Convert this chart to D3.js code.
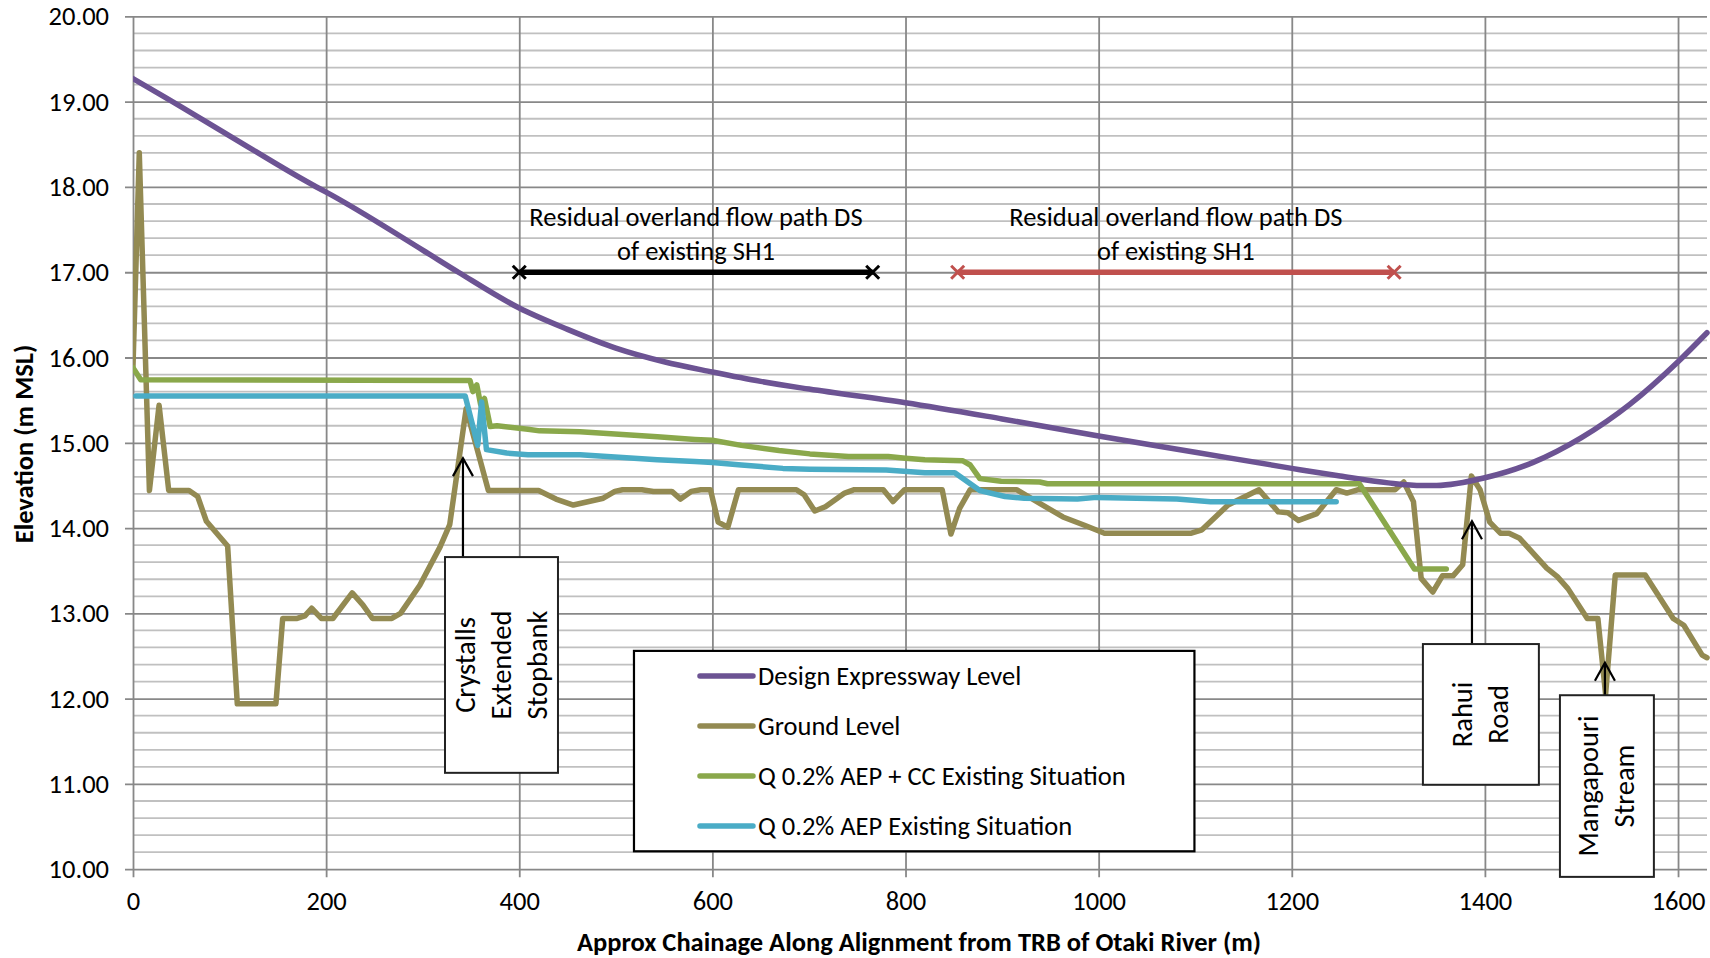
<!DOCTYPE html>
<html>
<head>
<meta charset="utf-8">
<script src="https://cdn.jsdelivr.net/npm/d3@7"></script>
<style>
  html, body { margin: 0; padding: 0; background: #fff; }
  svg { display: block; }
  text { font-family: Carlito, Lato, "Open Sans", sans-serif; fill: #000; }
</style>
</head>
<body>
<svg id="chart" width="1710" height="958"></svg>
<script>
// Long section along the expressway alignment: chainage (m) vs elevation (m MSL)
const designLevel = [
  [0, 19.27], [32, 19.06], [100, 18.60], [190, 18.00], [200, 17.94], [300, 17.26],
  [337, 17.00], [400, 16.58], [450, 16.33], [500, 16.11], [550, 15.95], [600, 15.83],
  [650, 15.72], [700, 15.63], [800, 15.47], [900, 15.28], [1000, 15.08],
  [1100, 14.89], [1200, 14.70], [1250, 14.61], [1300, 14.53], [1335, 14.50],
  [1350, 14.50], [1400, 14.59], [1450, 14.77], [1500, 15.06], [1550, 15.45],
  [1600, 15.95], [1630, 16.29]
];

const groundLevel = [
  [0, 15.90], [6.5, 18.40], [17, 14.44], [27, 15.44], [37, 14.44], [58, 14.44],
  [67, 14.37], [76, 14.08], [98, 13.79], [108, 11.94], [148, 11.94], [155, 12.94],
  [170, 12.94], [178, 12.97], [185, 13.06], [195, 12.94], [207, 12.94], [215, 13.06],
  [227, 13.24], [238, 13.10], [248, 12.94], [268, 12.94], [277, 13.00], [297, 13.33],
  [318, 13.78], [328, 14.04], [345, 15.40], [368, 14.44], [420, 14.44], [438, 14.34],
  [456, 14.27], [487, 14.35], [499, 14.43], [507, 14.45], [527, 14.45], [539, 14.43],
  [558, 14.43], [567, 14.34], [578, 14.43], [588, 14.45], [598, 14.45], [606, 14.07],
  [616, 14.01], [627, 14.45], [687, 14.45], [695, 14.39], [706, 14.20], [717, 14.25],
  [737, 14.41], [747, 14.45], [777, 14.45], [787, 14.31], [799, 14.45], [838, 14.45],
  [847, 13.93], [856, 14.23], [867, 14.45], [915, 14.45], [939, 14.29], [963, 14.13],
  [986, 14.03], [1006, 13.94], [1096, 13.94], [1107, 13.98], [1134, 14.27],
  [1166, 14.45], [1186, 14.19], [1196, 14.18], [1207, 14.09], [1226, 14.17],
  [1246, 14.45], [1257, 14.41], [1269, 14.45], [1307, 14.45], [1316, 14.54],
  [1326, 14.31], [1334, 13.41], [1346, 13.25], [1356, 13.44], [1367, 13.44],
  [1377, 13.57], [1386, 14.61], [1395, 14.45], [1405, 14.07], [1416, 13.94],
  [1425, 13.94], [1436, 13.88], [1464, 13.53], [1475, 13.43], [1486, 13.29],
  [1506, 12.94], [1517, 12.94], [1525, 12.05], [1535, 13.45], [1566, 13.45],
  [1595, 12.94], [1606, 12.86], [1625, 12.51], [1630, 12.48]
];

const floodCC = [
  [0, 15.88], [8, 15.74], [349, 15.73], [352, 15.60], [356, 15.68], [360, 15.45],
  [364, 15.52], [370, 15.19], [377, 15.20], [409, 15.16], [421, 15.14], [463, 15.13],
  [503, 15.10], [543, 15.07], [582, 15.04], [600, 15.03], [630, 14.97], [669, 14.91],
  [701, 14.87], [741, 14.84], [782, 14.84], [800, 14.82], [820, 14.80], [859, 14.79],
  [867, 14.74], [877, 14.58], [899, 14.55], [939, 14.54], [947, 14.52], [1270, 14.52],
  [1327, 13.52], [1360, 13.52]
];

const floodExisting = [
  [3, 15.55], [344, 15.55], [357, 14.97], [361, 15.48], [366, 14.92], [387, 14.88],
  [409, 14.86], [463, 14.86], [503, 14.83], [543, 14.80], [582, 14.78], [600, 14.77],
  [630, 14.74], [673, 14.70], [701, 14.69], [780, 14.68], [820, 14.65], [851, 14.65],
  [877, 14.44], [903, 14.37], [923, 14.35], [978, 14.34], [998, 14.36], [1081, 14.34],
  [1116, 14.31], [1246, 14.31]
];

const seriesNames = [
  "Design Expressway Level",
  "Ground Level",
  "Q 0.2% AEP + CC Existing Situation",
  "Q 0.2% AEP Existing Situation"
];
const seriesColors = ["#6c5393", "#938a52", "#8aa84b", "#4aacc6"];

const xTicks = [0, 200, 400, 600, 800, 1000, 1200, 1400, 1600];
const yTicks = [10, 11, 12, 13, 14, 15, 16, 17, 18, 19, 20];

// Overland flow path reaches (chainage start/end, elevation of marker line)
const flowPaths = [
  { from: 400, to: 766, level: 17.0, color: "#000000",
    lines: ["Residual overland flow path DS", "of existing SH1"] },
  { from: 854, to: 1306, level: 17.0, color: "#c0504d",
    lines: ["Residual overland flow path DS", "of existing SH1"] }
];

// Callouts: arrow at chainage/elevation, box extent in chart units
const callouts = [
  { lines: ["Crystalls", "Extended", "Stopbank"], at: 341.7, tip: 14.82,
    box: { x0: 323.1, x1: 440.1, y0: 13.66, y1: 11.13 } },
  { lines: ["Rahui", "Road"], at: 1386.6, tip: 14.08,
    box: { x0: 1335.8, x1: 1455.9, y0: 12.64, y1: 10.99 } },
  { lines: ["Mangapouri", "Stream"], at: 1524.3, tip: 12.42,
    box: { x0: 1477.7, x1: 1575.0, y0: 12.04, y1: 9.91 } }
];

const svg = d3.select("#chart");
const plot = { left: 133, right: 1707, top: 16.4, bottom: 869.2 };
const labelSize = 26.5;

const x = d3.scaleLinear().domain([0, 1630]).range([plot.left, plot.right]);
const y = d3.scaleLinear().domain([10, 20]).range([plot.bottom, plot.top]);

svg.append("defs").append("clipPath").attr("id", "plotClip")
  .append("rect")
  .attr("x", plot.left).attr("y", plot.top - 10)
  .attr("width", plot.right - plot.left + 5).attr("height", plot.bottom - plot.top + 20);

// Minor horizontal gridlines every 0.2 m
const minorY = d3.range(10, 20.001, 0.2).filter(v => Math.abs(v - Math.round(v)) > 1e-6);
svg.append("g").selectAll("line").data(minorY).join("line")
  .attr("x1", plot.left).attr("x2", plot.right)
  .attr("y1", d => y(d)).attr("y2", d => y(d))
  .attr("stroke", "#c0c0c0").attr("stroke-width", 1.8);

// Major gridlines, both directions
const yAxis = d3.axisLeft(y).tickValues(yTicks).tickFormat(d3.format(".2f"))
  .tickSize(-(plot.right - plot.left + 8)).tickPadding(16);
const gy = svg.append("g").attr("transform", `translate(${plot.left - 8},0)`).call(yAxis);
gy.select(".domain").remove();
gy.selectAll(".tick line").attr("stroke", "#888888").attr("stroke-width", 1.8);
gy.selectAll(".tick text").attr("font-size", labelSize).attr("fill", "#000").attr("font-family", null);

const xAxis = d3.axisBottom(x).tickValues(xTicks).tickFormat(d3.format("d"))
  .tickSize(-(plot.bottom - plot.top + 8)).tickPadding(14);
const gx = svg.append("g").attr("transform", `translate(0,${plot.bottom + 8})`).call(xAxis);
gx.select(".domain").remove();
gx.selectAll(".tick line").attr("stroke", "#888888").attr("stroke-width", 1.8);
gx.selectAll(".tick text").attr("font-size", labelSize).attr("fill", "#000").attr("font-family", null);

// Data series
const lineLinear = d3.line().x(d => x(d[0])).y(d => y(d[1]));
const lineSmooth = d3.line().x(d => x(d[0])).y(d => y(d[1])).curve(d3.curveMonotoneX);

const series = [
  { data: designLevel, gen: lineSmooth },
  { data: groundLevel, gen: lineLinear },
  { data: floodCC, gen: lineLinear },
  { data: floodExisting, gen: lineLinear }
];
const gSeries = svg.append("g").attr("clip-path", "url(#plotClip)");
// ground first so the flood and design lines sit above it
[1, 0, 2, 3].forEach(i => {
  gSeries.append("path")
    .attr("d", series[i].gen(series[i].data))
    .attr("fill", "none")
    .attr("stroke", seriesColors[i])
    .attr("stroke-width", 5.5)
    .attr("stroke-linejoin", "round")
    .attr("stroke-linecap", "round");
});

// Overland flow path markers and labels
const gFlow = svg.append("g");
flowPaths.forEach(p => {
  const yy = y(p.level);
  gFlow.append("line")
    .attr("x1", x(p.from)).attr("x2", x(p.to)).attr("y1", yy).attr("y2", yy)
    .attr("stroke", p.color).attr("stroke-width", 5.5);
  [p.from, p.to].forEach(v => {
    const cx = x(v), s = 6.5;
    gFlow.append("path")
      .attr("d", `M${cx - s},${yy - s}L${cx + s},${yy + s}M${cx - s},${yy + s}L${cx + s},${yy - s}`)
      .attr("stroke", p.color).attr("stroke-width", 3).attr("fill", "none");
  });
  const cx = (x(p.from) + x(p.to)) / 2;
  p.lines.forEach((t, i) => {
    gFlow.append("text")
      .attr("x", cx).attr("y", yy - 55 + i * 34)
      .attr("text-anchor", "middle").attr("dominant-baseline", "central")
      .attr("font-size", labelSize).text(t);
  });
});

// Callout boxes with arrows
const gCall = svg.append("g");
callouts.forEach(c => {
  const bx0 = x(c.box.x0), bx1 = x(c.box.x1);
  const by0 = y(c.box.y0), by1 = y(c.box.y1);
  const ax = x(c.at), ay = y(c.tip);
  gCall.append("line")
    .attr("x1", ax).attr("x2", ax).attr("y1", by0).attr("y2", ay)
    .attr("stroke", "#000").attr("stroke-width", 2.2);
  gCall.append("path")
    .attr("d", `M${ax - 10},${ay + 18}L${ax},${ay}L${ax + 10},${ay + 18}`)
    .attr("stroke", "#000").attr("stroke-width", 2.2).attr("fill", "none");
  gCall.append("rect")
    .attr("x", bx0).attr("y", by0).attr("width", bx1 - bx0).attr("height", by1 - by0)
    .attr("fill", "#fff").attr("stroke", "#222").attr("stroke-width", 2);
  const cx = (bx0 + bx1) / 2, cy = (by0 + by1) / 2;
  const n = c.lines.length, gap = 36;
  const t = gCall.append("text")
    .attr("transform", `translate(${cx},${cy}) rotate(-90)`)
    .attr("text-anchor", "middle").attr("font-size", 28.5);
  c.lines.forEach((s, i) => {
    t.append("tspan").attr("x", 0)
      .attr("y", (i - (n - 1) / 2) * gap)
      .attr("dominant-baseline", "central")
      .text(s);
  });
});

// Legend
const legend = { x0: x(518.8), x1: x(1099.2), y0: y(12.56), y1: y(10.21) };
const gLeg = svg.append("g");
gLeg.append("rect")
  .attr("x", legend.x0).attr("y", legend.y0)
  .attr("width", legend.x1 - legend.x0).attr("height", legend.y1 - legend.y0)
  .attr("fill", "#fff").attr("stroke", "#000").attr("stroke-width", 2.2);
seriesNames.forEach((name, i) => {
  const ly = legend.y0 + 25 + i * 50;
  gLeg.append("line")
    .attr("x1", legend.x0 + 66).attr("x2", legend.x0 + 119)
    .attr("y1", ly).attr("y2", ly)
    .attr("stroke", seriesColors[i]).attr("stroke-width", 5.5).attr("stroke-linecap", "round");
  gLeg.append("text")
    .attr("x", legend.x0 + 124).attr("y", ly)
    .attr("dominant-baseline", "central")
    .attr("font-size", labelSize).text(name);
});

// Axis titles
svg.append("text")
  .attr("x", 919).attr("y", 942)
  .attr("text-anchor", "middle").attr("dominant-baseline", "central")
  .attr("font-size", 26.5).attr("font-weight", "bold")
  .text("Approx Chainage Along Alignment from TRB of Otaki River (m)");
svg.append("text")
  .attr("transform", "translate(24,444) rotate(-90)")
  .attr("text-anchor", "middle").attr("dominant-baseline", "central")
  .attr("font-size", 26.5).attr("font-weight", "bold")
  .text("Elevation (m MSL)");
</script>
</body>
</html>
